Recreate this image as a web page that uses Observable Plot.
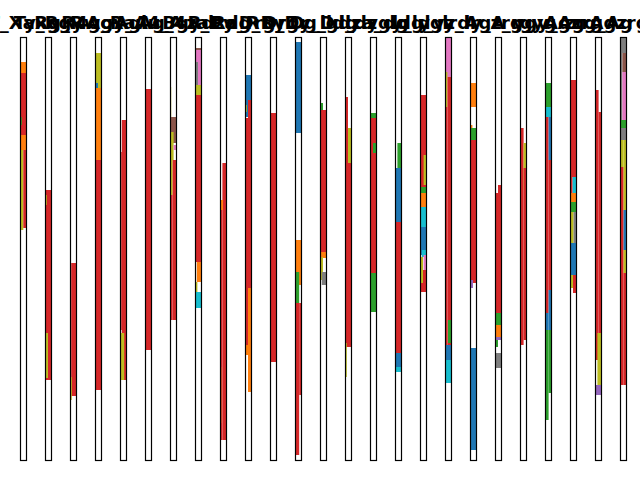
<!DOCTYPE html>
<html>
<head>
<meta charset="utf-8">
<script src="https://cdn.jsdelivr.net/npm/d3@7"></script>
<script src="https://cdn.jsdelivr.net/npm/@observablehq/plot@0.6"></script>
<style>
  html, body { margin: 0; padding: 0; background: #fff; }
  #chart svg { display: block; }
</style>
</head>
<body>
<div id="chart"></div>
<script>
// Panel titles (overlapping in the reference)
const titles = [
  "T_Xaxg", "Ty_Rgy", "Rg_Rwo", "R4g_Ra", "Agy_Au",
  "Agl4_A", "Ag_4za", "Bgy_Py", "Rdza_R", "Rdg_Ry",
  "Drg_Dr", "Drgy_D", "Dg_ldg", "lgl_dz", "dza_dg",
  "ygy_ld", "ldg_yz", "ygy_lr", "lrdy_A", "Agz_rg",
  "zrg_yg", "ygy_Ag", "Agzrg", "zrg_Ag", "Agzrg_"
];

// Categories (matplotlib tab10 order)
const cats = ["blue", "orange", "green", "red", "purple", "brown", "pink", "gray", "olive", "cyan"];
const tab10 = ["#1f77b4", "#ff7f0e", "#2ca02c", "#d62728", "#9467bd", "#8c564b", "#e377c2", "#7f7f7f", "#bcbd22", "#17becf"];

// Segments per panel: [yStart, yEnd, category, xStart, xEnd]  (y in units along the panel, 0 at top)
const p01 = [[2.5,3.8,"orange",0,1],[3.6,9.8,"red",0,1],[8.0,8.8,"green",0,0.3],[9.8,11.3,"orange",0,1],[11.3,19.3,"olive",0,0.55],[11.3,19.1,"red",0.55,1]];
const p02 = [[15.3,34.3,"red",0,1],[15.8,16.8,"olive",0,0.3],[29.6,34.1,"olive",0,0.5]];
const p03 = [[22.6,35.9,"red",0.2,1],[23.3,34,"red",0,0.2],[34,36.3,"olive",0,0.3]];
const p04 = [[1.6,5.3,"olive",0,1],[4.6,5.8,"blue",0,0.5],[5.1,12.3,"orange",0,1],[12.3,35.3,"red",0,1]];
const p05 = [[8.3,34.3,"red",0.3,1],[11.5,29.3,"red",0,0.3],[29.6,34.3,"olive",0,0.7]];
const p06 = [[5.2,31.3,"red",0,1]];
const p07 = [[5.0,8.0,"olive",0,0.2],[8.0,10.6,"brown",0,1],[9.5,12.3,"olive",0,0.6],[10.8,11.3,"pink",0.6,1],[12.3,28.3,"red",0.4,1],[12.3,15.8,"olive",0,0.4],[15.8,28.3,"red",0,0.4]];
const p08 = [[1.1,1.8,"brown",0,1],[1.3,2.5,"pink",0,1],[2.5,4.8,"gray",0,0.5],[2.5,4.8,"pink",0.5,1],[4.8,5.8,"olive",0,1],[5.8,22.5,"red",0,1],[22.5,24.5,"orange",0.3,1],[24.5,25.5,"olive",0,0.4],[25.5,27.1,"cyan",0,1]];
const p09 = [[12.6,40.3,"red",0.4,1],[16.3,40.3,"red",0,0.4],[16.3,17.3,"orange",0,0.5],[33,38.6,"olive",0,0.2]];
const p10 = [[3.8,8.0,"blue",0,1],[6.8,7.5,"olive",0,0.3],[6.3,25.1,"red",0.5,1],[8.1,31.3,"red",0,0.5],[25.1,35.5,"orange",0.5,1],[30.8,31.8,"orange",0,0.5]];
const p11 = [[7.6,32.5,"red",0,1]];
const p12 = [[0.5,9.6,"blue",0,1],[20.3,24.8,"orange",0,1],[23.5,26.6,"green",0,0.7],[26.6,41.8,"red",0,0.7],[26.6,35.8,"red",0.7,1]];
const p13 = [[6.6,7.8,"green",0,0.5],[7.3,22,"red",0,1],[21.5,22.1,"orange",0,1],[22,24.3,"olive",0,0.5],[23.5,24.8,"gray",0.3,1]];
const p14 = [[6,31,"red",0,0.5],[9.1,12.6,"olive",0.5,1],[12.6,31,"red",0.5,1],[30.6,34,"olive",0,0.3]];
const p15 = [[7.6,8.8,"green",0,1],[8.1,23.6,"red",0,1],[10.6,11.6,"green",0.5,1],[23.6,27.5,"green",0,1]];
const p16 = [[10.6,13.3,"green",0.4,1],[13.1,18.5,"blue",0,1],[18.5,31.6,"red",0,1],[31.6,33,"blue",0,1],[33,33.5,"cyan",0,1]];
const p17 = [[5.8,15,"red",0,1],[11.8,14.8,"olive",0.6,1],[15,15.6,"green",0,1],[15.6,17,"orange",0,1],[17,19,"cyan",0,1],[19,21.8,"blue",0,1],[21.3,22,"cyan",0.3,1],[22,24.6,"olive",0,0.5],[21.8,23.3,"pink",0.6,1],[23.3,25.5,"red",0.5,1],[24.6,25.5,"red",0,0.5]];
const p18 = [[0,4,"pink",0,1],[3.5,7,"olive",0,0.4],[4,31.8,"red",0.4,1],[7,31.8,"red",0,0.4],[28.3,30.6,"green",0.5,1],[30.8,32.5,"blue",0,1],[32.3,34.6,"cyan",0,1]];
const p19 = [[4.6,7,"orange",0,1],[8.8,9.3,"orange",0,0.4],[9.1,10.3,"green",0,1],[10.3,24.6,"red",0,1],[24.3,25.1,"purple",0,0.5],[31.1,41.3,"blue",0,1]];
const p20 = [[14.8,27.6,"red",0.5,1],[15.6,27.6,"red",0,0.5],[27.6,29,"green",0,1],[28.8,30,"orange",0,1],[30,30.3,"purple",0,1],[30.3,31,"green",0,0.5],[31.6,33.1,"gray",0,1]];
const p21 = [[9.1,30.8,"red",0,0.6],[10.6,15.3,"olive",0.6,1],[13.1,30.3,"red",0.6,1]];
const p22 = [[4.6,7,"green",0,1],[7,8,"cyan",0,1],[8,27.6,"red",0,0.6],[8,12.3,"blue",0.6,1],[12.3,25.3,"red",0.6,1],[25.3,29.3,"blue",0.6,1],[27.6,29.3,"blue",0,0.6],[29.3,38.3,"green",0,0.6],[29.3,35.6,"green",0.6,1]];
const p23 = [[4.3,14,"red",0,1],[14,15.6,"cyan",0.4,1],[14,15.6,"red",0,0.4],[15.6,16.5,"orange",0,1],[16.5,17.5,"green",0,1],[17.5,20.6,"olive",0,0.6],[17.5,20.6,"gray",0.6,1],[20.6,23.8,"blue",0,1],[23.8,25.1,"olive",0,0.5],[23.8,25.6,"red",0.5,1]];
const p24 = [[5.3,32.3,"red",0,0.6],[7.5,29.6,"red",0.6,1],[29.6,35,"olive",0.4,1],[34.8,35.8,"purple",0,1]];
const p25 = [[0,1.6,"gray",0,1],[1.6,8.3,"gray",0,0.4],[1.6,3.5,"brown",0.4,1],[3.5,8.3,"pink",0.4,1],[8.3,9.1,"green",0,1],[9.1,10.3,"gray",0,1],[10.3,13,"olive",0,0.6],[13,34.8,"red",0,0.6],[10.3,17.3,"olive",0.6,1],[17.3,21.3,"blue",0.6,1],[21.3,23.6,"olive",0.6,1],[23.6,34.8,"red",0.6,1]];

const panels = [p01,p02,p03,p04,p05,p06,p07,p08,p09,p10,p11,p12,p13,p14,p15,p16,p17,p18,p19,p20,p21,p22,p23,p24,p25];

// category keys prefixed so Plot treats them as ordinal values, not literal CSS colours
const rows = panels.flatMap((segs, i) =>
  segs.map(([y1, y2, cat, x1, x2]) => ({panel: titles[i], y1, y2, cat: "tab:" + cat, x1, x2}))
);

const chart = Plot.plot({
  width: 640,
  height: 480,
  marginTop: 37,
  marginBottom: 20,
  marginLeft: 20,
  marginRight: 14,
  style: {background: "#fff"},
  fx: {domain: titles, paddingInner: 0.76, paddingOuter: 0, label: null},
  x: {domain: [0, 1], axis: null},
  y: {domain: [0, 42.3], reverse: true, axis: null},
  color: {type: "ordinal", domain: cats.map(c => "tab:" + c), range: tab10},
  marks: [
    Plot.rect(rows, {fx: "panel", x1: "x1", x2: "x2", y1: "y1", y2: "y2", fill: "cat"}),
    Plot.frame({stroke: "black", strokeWidth: 1.2}),
    Plot.axisFx({anchor: "top", tickSize: 0, tickPadding: 9, fontSize: 18, fontWeight: "bold", fill: "black", label: null, fontFamily: "DejaVu Sans"})
  ]
});

document.getElementById("chart").appendChild(chart);
</script>
</body>
</html>
